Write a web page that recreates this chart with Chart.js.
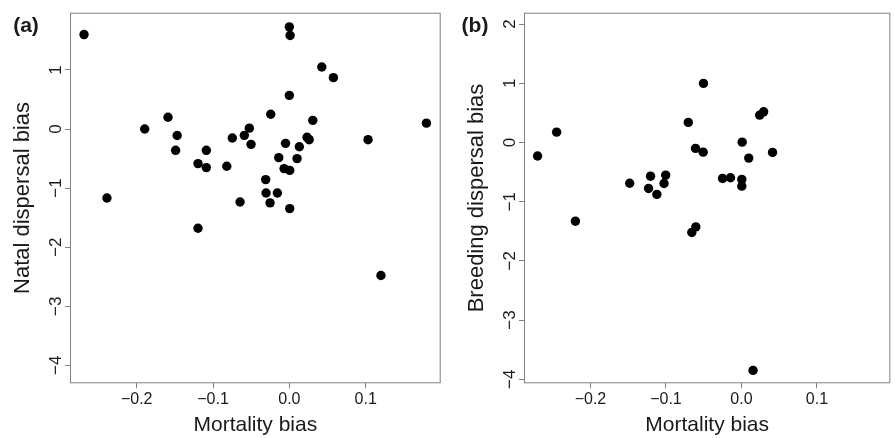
<!DOCTYPE html>
<html>
<head>
<meta charset="utf-8">
<title>Mortality bias vs dispersal bias</title>
<script src="https://cdn.jsdelivr.net/npm/chart.js@4.4.1/dist/chart.umd.min.js"></script>
<style>
    html, body { margin: 0; padding: 0; background: #fff; }
    #wrap { position: relative; width: 895px; height: 438px; overflow: hidden; }
    canvas { position: absolute; top: 0; }
</style>
</head>
<body>
<div id="wrap">
    <canvas id="natalChart" width="447" height="438" style="left:0"></canvas>
    <canvas id="breedingChart" width="448" height="438" style="left:447px"></canvas>
</div>
<script>
// ===== DATA =====
// Panel (a): natal dispersal
const natalMortality = [
    -0.269, 0.000, 0.001, 0.0425, 0.0577, 0.000, -0.0244, -0.159, -0.1895, 0.0307,
    0.1796, -0.147, -0.149, -0.1088, -0.1197, -0.1088, -0.082, -0.0747, -0.059, -0.0524,
    -0.0502, -0.0050, 0.0232, 0.0260, 0.0131, -0.0139, 0.0101, -0.0069, 0.0005, -0.031,
    -0.0305, -0.0157, -0.0253, -0.0646, 0.0005, -0.239, 0.1031, -0.1197, 0.120
];
const natalBias = [
    1.60, 1.73, 1.585, 1.05, 0.87, 0.57, 0.25, 0.20, 0.00, 0.147,
    0.10, -0.11, -0.36, -0.36, -0.585, -0.653, -0.63, -0.152, -0.107, 0.015,
    -0.259, -0.242, -0.14, -0.18, -0.30, -0.484, -0.50, -0.67, -0.70, -0.856,
    -1.083, -1.083, -1.25, -1.235, -1.347, -1.167, -0.18, -1.68, -2.48
];

// Panel (b): breeding dispersal
const breedingMortality = [
    -0.270, -0.2448, -0.2199, -0.148, -0.1204, -0.123, -0.112, -0.1003, -0.1025, -0.0704,
    -0.0503, -0.0608, -0.0507, -0.025, -0.0145, 0.0005, 0.0005, 0.001, 0.0097, 0.0242,
    0.0294, 0.0412, -0.0657, -0.0604, 0.0154
];
const breedingBias = [
    -0.23, 0.174, -1.33, -0.69, -0.57, -0.777, -0.878, -0.552, -0.693, 0.338,
    0.997, -0.101, -0.164, -0.608, -0.597, -0.625, -0.738, 0.005, -0.265, 0.461,
    0.517, -0.169, -1.52, -1.426, -3.85
];

// Axis ticks
const xTicks = [-0.2, -0.1, 0.0, 0.1];
const xTickLabels = ['\u22120.2', '\u22120.1', '0.0', '0.1'];
const natalYTicks = [1, 0, -1, -2, -3, -4];
const natalYTickLabels = ['1', '0', '\u22121', '\u22122', '\u22123', '\u22124'];
const breedingYTicks = [2, 1, 0, -1, -2, -3, -4];
const breedingYTickLabels = ['2', '1', '0', '\u22121', '\u22122', '\u22123', '\u22124'];

const FONT = "'Liberation Sans', Arial, Helvetica, sans-serif";
const AXIS_GREY = '#808080';
const TEXT = '#1a1a1a';

// ===== FRAME PLUGIN =====
// box round the plot area, rotated y tick labels (R style) and panel letter
const framePlugin = {
    id: 'frame',
    afterDraw(chart, args, opts) {
        const { ctx, chartArea } = chart;
        const yScale = chart.scales.y;
        ctx.save();

        ctx.strokeStyle = AXIS_GREY;
        ctx.lineWidth = 1;
        ctx.strokeRect(chartArea.left + 0.5, chartArea.top + 0.5,
            chartArea.right - chartArea.left - 1, chartArea.bottom - chartArea.top - 1);

        ctx.fillStyle = TEXT;
        ctx.font = '17px ' + FONT;
        ctx.textAlign = 'center';
        ctx.textBaseline = 'alphabetic';
        opts.yTicks.forEach((v, i) => {
            const py = yScale.getPixelForValue(v);
            ctx.save();
            ctx.translate(chartArea.left - 9, py);
            ctx.rotate(-Math.PI / 2);
            ctx.fillText(opts.yTickLabels[i], 0, 0);
            ctx.restore();
        });

        ctx.font = 'bold 21px ' + FONT;
        ctx.textBaseline = 'middle';
        ctx.fillText(opts.letter, opts.letterX, 26);
        ctx.restore();
    }
};

// ===== PANEL =====
function makePanel(canvasId, cfg) {
    const points = cfg.xs.map((x, i) => ({ x: x, y: cfg.ys[i] }));

    return new Chart(document.getElementById(canvasId), {
        type: 'scatter',
        data: {
            datasets: [{
                data: points,
                backgroundColor: '#000',
                borderWidth: 0,
                pointRadius: 4.7,
                pointHoverRadius: 4.7
            }]
        },
        options: {
            responsive: false,
            animation: false,
            events: [],
            layout: {
                padding: { top: 12.7, right: cfg.rightPad, left: 0, bottom: 0 }
            },
            plugins: {
                legend: { display: false },
                tooltip: { enabled: false },
                frame: {
                    letter: cfg.letter,
                    letterX: cfg.letterX,
                    yTicks: cfg.yTicks,
                    yTickLabels: cfg.yTickLabels
                }
            },
            scales: {
                x: {
                    type: 'linear',
                    min: cfg.xMin,
                    max: cfg.xMax,
                    afterBuildTicks: scale => { scale.ticks = xTicks.map(v => ({ value: v })); },
                    afterFit: scale => { scale.height = 438 - 383.3; },
                    grid: {
                        drawOnChartArea: false,
                        drawTicks: true,
                        tickLength: 5,
                        color: AXIS_GREY
                    },
                    border: { display: false },
                    ticks: {
                        color: TEXT,
                        font: { family: FONT, size: 16 },
                        padding: 1.3,
                        maxRotation: 0,
                        autoSkip: false,
                        callback: (value, index) => xTickLabels[index]
                    },
                    title: {
                        display: true,
                        text: 'Mortality bias',
                        color: TEXT,
                        font: { family: FONT, size: 21 },
                        padding: { top: 0, bottom: 0 }
                    }
                },
                y: {
                    type: 'linear',
                    min: cfg.yMin,
                    max: cfg.yMax,
                    afterBuildTicks: scale => { scale.ticks = cfg.yTicks.map(v => ({ value: v })); },
                    afterFit: scale => { scale.width = cfg.axisWidth; },
                    grid: {
                        drawOnChartArea: false,
                        drawTicks: true,
                        tickLength: 5,
                        color: AXIS_GREY
                    },
                    border: { display: false },
                    ticks: { display: false },
                    title: {
                        display: true,
                        text: cfg.yTitle,
                        color: TEXT,
                        font: { family: FONT, size: 22 },
                        padding: { top: cfg.titlePad, bottom: 0 }
                    }
                }
            }
        },
        plugins: [framePlugin]
    });
}

makePanel('natalChart', {
    letter: '(a)', letterX: 26,
    xs: natalMortality, ys: natalBias,
    yTicks: natalYTicks, yTickLabels: natalYTickLabels,
    yTitle: 'Natal dispersal bias',
    xMin: -0.2874, xMax: 0.1983,
    yMin: -4.305, yMax: 1.970,
    axisWidth: 70, titlePad: 9.3, rightPad: 447 - 440.7
});

makePanel('breedingChart', {
    letter: '(b)', letterX: 28,
    xs: breedingMortality, ys: breedingBias,
    yTicks: breedingYTicks, yTickLabels: breedingYTickLabels,
    yTitle: 'Breeding dispersal bias',
    xMin: -0.2880, xMax: 0.1972,
    yMin: -4.068, yMax: 2.191,
    axisWidth: 77, titlePad: 16.5, rightPad: 448 - 446.3
});
</script>
</body>
</html>
